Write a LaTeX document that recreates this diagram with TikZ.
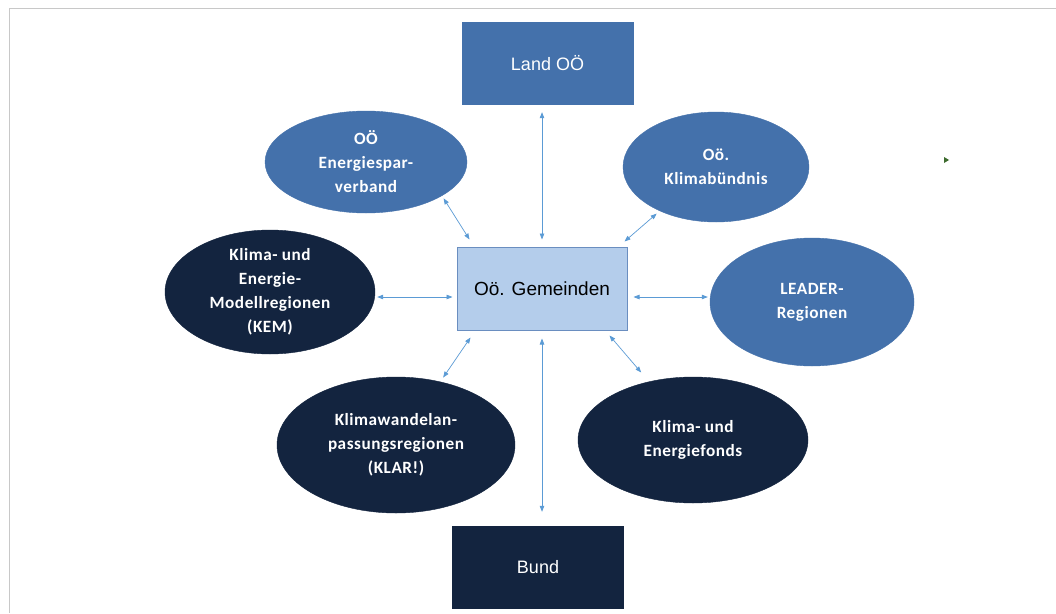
\documentclass[tikz,border=0pt]{standalone}
\usepackage{fontspec}
\setmainfont{Liberation Sans}
\newfontfamily\ellfont[LetterSpace=3]{Carlito}
\usetikzlibrary{shapes.geometric,arrows.meta}
\definecolor{midblue}{HTML}{4471AB}
\definecolor{navy}{HTML}{13243F}
\definecolor{lightblue}{HTML}{B4CDEB}
\definecolor{boxedge}{HTML}{6A8EC0}
\definecolor{arrowblue}{HTML}{5B9BD5}
\definecolor{framegray}{HTML}{C8C8C8}
\definecolor{markgreen}{HTML}{3D6B2E}
\tikzset{
  rectbox/.style={rectangle, minimum width=171pt, minimum height=82pt, inner sep=0pt,
    font=\fontsize{18}{22}\selectfont},
  ellbox/.style={ellipse, inner sep=0pt, align=center, text=white,
    font=\ellfont\bfseries\fontsize{17.2}{24}\selectfont},
  mid/.style={fill=midblue, draw=midblue},
  dark/.style={fill=navy, draw=navy},
  arr/.style={draw=arrowblue, line width=0.7pt, {Triangle[length=6pt,width=4.5pt]}-{Triangle[length=6pt,width=4.5pt]}}
}
\begin{document}
\begin{tikzpicture}[x=1pt,y=-1pt]
\useasboundingbox (0,0) rectangle (1056,613);
\fill[white] (0,0) rectangle (1056,613);
% frame
\draw[framegray, line width=1.2pt] (9.5,613) -- (9.5,8.5) -- (1056,8.5);
% stray mark
\fill[markgreen] (944,157) -- (949,160) -- (944,163) -- cycle;

% rectangles
\node[rectbox, mid, text=white] (land) at (547.5,63) {Land OÖ};
\node[rectbox, fill=lightblue, draw=boxedge, line width=1pt, text=black, minimum width=170pt, minimum height=83pt, font=\fontsize{19}{22}\selectfont] (gem) at (542,288.5) {Oö. Gemeinden};
\node[rectbox, dark, text=white] (bund) at (538,567) {Bund};

% ellipses
\node[ellbox, mid, minimum width=202pt, minimum height=102pt] (esv) at (366,162) {OÖ\\Energiespar-\\verband};
\node[ellbox, mid, minimum width=186pt, minimum height=110pt] (kb) at (716,167) {Oö.\\Klimabündnis};
\node[ellbox, dark, minimum width=210pt, minimum height=124pt] (kem) at (270,292) {Klima- und\\Energie-\\Modellregionen\\(KEM)};
\node[ellbox, mid, minimum width=204pt, minimum height=128pt] (leader) at (812,302) {LEADER-\\Regionen};
\node[ellbox, dark, minimum width=238pt, minimum height=136pt] (klar) at (396,445) {Klimawandelan-\\passungsregionen\\(KLAR!)};
\node[ellbox, dark, minimum width=230pt, minimum height=126pt] (fonds) at (693,440) {Klima- und\\Energiefonds};

% connectors
\draw[arr, shorten <=8pt, shorten >=7pt] (gem.north |- land.south) -- (gem.north);
\draw[arr, shorten <=8pt, shorten >=14pt] (gem.south) -- (gem.south |- bund.north);
\draw[arr, shorten <=2pt, shorten >=4pt] ([yshift=-8.5pt]kem.east |- gem.west) -- ([yshift=-8.5pt]gem.west);
\draw[arr, shorten <=6pt, shorten >=2pt] ([yshift=-8.5pt]gem.east) -- ([yshift=-8.5pt]gem.east -| leader.west);
\draw[arr, shorten <=3pt] (esv.-24) -- ([shift={(13,-7)}]gem.north west);
\draw[arr, shorten <=4pt] (kb.218) -- ([shift={(-3,-5)}]gem.north east);
\draw[arr, shorten <=5pt] (klar.55) -- ([shift={(14,7)}]gem.south west);
\draw[arr, shorten <=12pt] (fonds.127) -- ([shift={(-18,5)}]gem.south east);
\end{tikzpicture}
\end{document}
